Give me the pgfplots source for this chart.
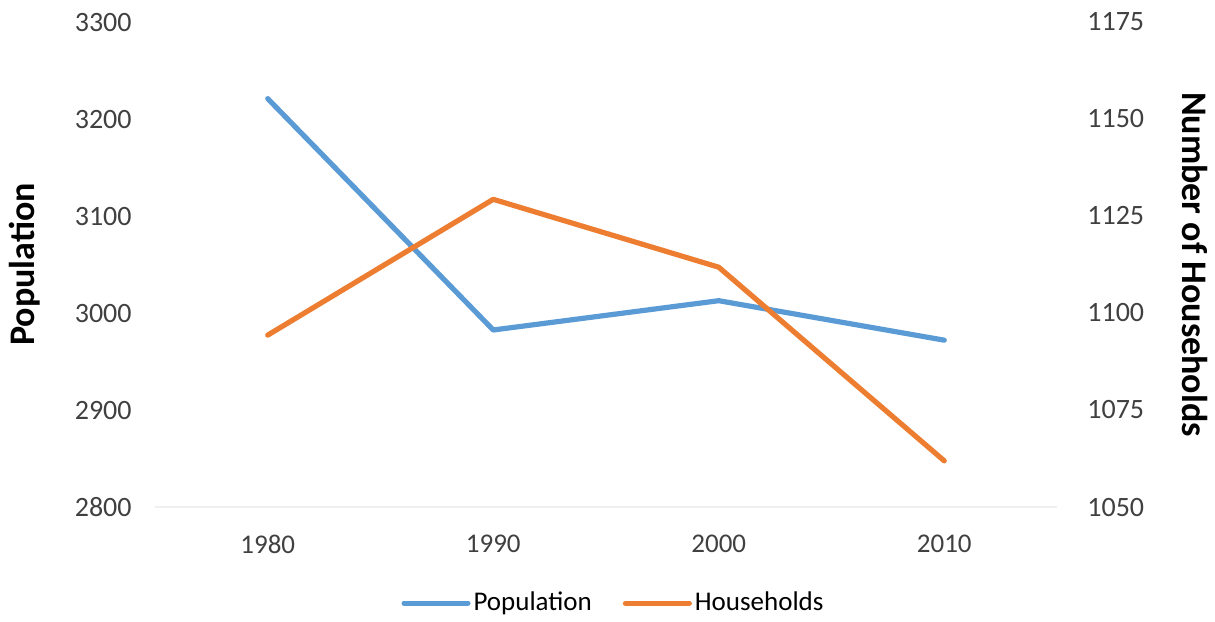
\documentclass[border=0pt]{standalone}
\usepackage{pgfplots}
\pgfplotsset{compat=1.18}
\usepackage{fontspec}
\setmainfont{Carlito}
\definecolor{popblue}{HTML}{5B9BD5}
\definecolor{hhorange}{HTML}{ED7D31}
\definecolor{ticktext}{HTML}{404040}
\begin{document}
\begin{tikzpicture}
\pgfplotsset{
  common/.style={
    scale only axis,
    width=451pt, height=242.5pt,
    at={(0,0)}, anchor=south west,
    xmin=-0.5, xmax=3.5,
    xtick={0,1,2,3},
    major tick length=0pt,
    /pgf/number format/assume math mode=true,
    /pgf/number format/1000 sep={},
    tick label style={font=\fontsize{14}{16}\selectfont, text=ticktext},
  }
}
\begin{axis}[
  common,
  axis x line*=bottom,
  axis y line=none,
  x axis line style={draw=black!6, line width=1pt},
  xticklabels={1980,1990,2000,2010},
  x tick label style={inner sep=0pt, anchor=north, yshift=-14pt, font=\fontsize{13.5}{16}\selectfont},
  ymin=2800, ymax=3300,
  ytick={2800,2900,3000,3100,3200,3300},
  legend style={at={(0.5,0)}, anchor=center, yshift=-48pt, xshift=4pt, draw=none, fill=none,
    legend columns=2, font=\fontsize{13.5}{16}\selectfont,
    nodes={inner xsep=1.5pt},
    /tikz/every even column/.append style={column sep=14pt}},
  legend cell align=left,
  legend image code/.code={\draw[#1, line width=2.5pt, line cap=round] (0pt,0pt) -- (32pt,0pt);},
]
\addplot[color=popblue, line width=2.6pt, line cap=round, line join=round] coordinates {
  (0,3221) (1,2982.5) (2,3012.7) (3,2972)
};
\addlegendentry{Population}
\addlegendimage{color=hhorange, line width=2.5pt}
\addlegendentry{Households}
\end{axis}
\begin{axis}[
  common,
  axis x line=none,
  axis y line*=left,
  y axis line style={draw=none},
  ymin=2800, ymax=3300,
  ytick={2800,2900,3000,3100,3200,3300},
  y tick label style={inner sep=0pt, anchor=east, xshift=-11.5pt},
  ylabel={\textbf{Population}},
  ylabel style={at={(axis description cs:0,0.5)}, anchor=center, yshift=65pt, font=\fontsize{18}{20}\selectfont, text=black},
]
\end{axis}
\begin{axis}[
  common,
  axis x line=none,
  axis y line*=right,
  y axis line style={draw=none},
  ymin=1050, ymax=1175,
  ytick={1050,1075,1100,1125,1150,1175},
  y tick label style={inner sep=0pt, anchor=west, xshift=15pt},
  ylabel={\textbf{Number of Households}},
  ylabel style={at={(axis description cs:1,0.5)}, anchor=center, rotate=180, yshift=69pt, font=\fontsize{18}{20}\selectfont, text=black},
]
\addplot[color=hhorange, line width=2.6pt, line cap=round, line join=round] coordinates {
  (0,1094.3) (1,1129.3) (2,1111.8) (3,1061.9)
};
\end{axis}
\path[use as bounding box] (-77.5pt,-55pt) rectangle (530pt,253.5pt);
\end{tikzpicture}
\end{document}
